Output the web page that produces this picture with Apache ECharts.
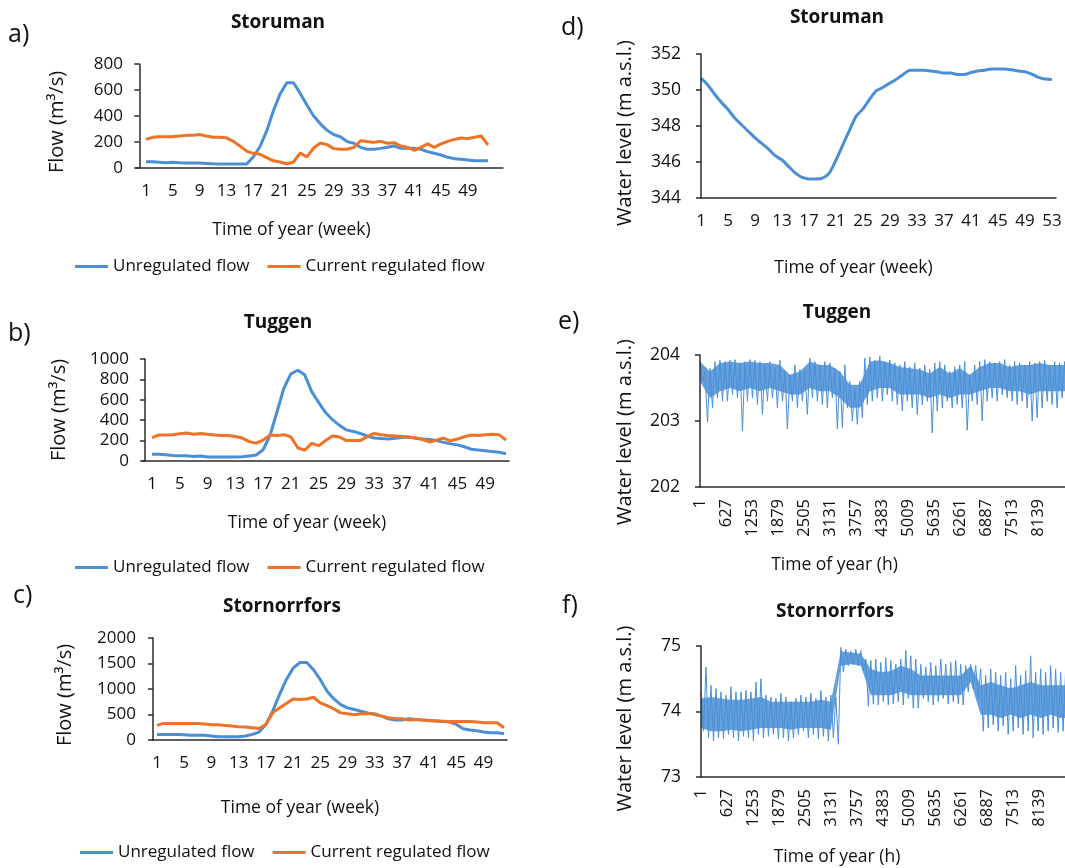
<!DOCTYPE html>
<html>
<head>
<meta charset="utf-8">
<script src="https://cdn.jsdelivr.net/npm/echarts@6.0.0/dist/echarts.min.js"></script>
<style>
  html, body { margin: 0; padding: 0; background: #fff; }
  #chart { width: 1065px; height: 868px; }
</style>
</head>
<body>
<div id="chart"></div>
<script>
// weekly flow panels a-c, weekly level panel d, hourly level panels e-f

var weeks = [];
for (var w = 1; w <= 53; w++) { weeks.push(w); }

var weekTicks = [1, 5, 9, 13, 17, 21, 25, 29, 33, 37, 41, 45, 49];
var weekTicksLevel = [1, 5, 9, 13, 17, 21, 25, 29, 33, 37, 41, 45, 49, 53];
var hourTicks = [1, 627, 1253, 1879, 2505, 3131, 3757, 4383, 5009, 5635, 6261, 6887, 7513, 8139];

// a) Storuman flow (m3/s)
var storumanUnreg = [48, 48, 45, 40, 45, 40, 38, 38, 38, 35,
  32, 30, 30, 30, 30, 30, 85, 165, 285, 440,
  570, 656, 656, 574, 485, 400, 340, 290, 258, 240,
  203, 190, 159, 144, 144, 151, 159, 169, 151, 151,
  151, 144, 126, 113, 100, 82, 72, 67, 62, 56,
  56, 56];
var storumanReg = [220, 236, 241, 241, 241, 246, 251, 251, 258, 246,
  236, 236, 232, 205, 170, 130, 113, 105, 80, 55,
  46, 31, 46, 115, 85, 154, 192, 180, 149, 144,
  144, 159, 210, 203, 197, 205, 190, 195, 169, 159,
  135, 159, 185, 159, 185, 205, 220, 231, 226, 236,
  246, 177];

// b) Tuggen flow (m3/s)
var tuggenUnreg = [65, 65, 62, 55, 52, 52, 45, 50, 40, 40,
  40, 40, 40, 42, 50, 58, 110, 250, 480, 715,
  855, 890, 845, 680, 575, 475, 405, 350, 305, 290,
  270, 245, 226, 220, 215, 222, 230, 235, 222, 215,
  210, 200, 183, 168, 158, 140, 115, 108, 100, 92,
  85, 72];
var tuggenReg = [229, 255, 255, 258, 268, 275, 262, 270, 262, 255,
  250, 250, 240, 225, 190, 175, 205, 255, 250, 258,
  235, 130, 105, 173, 150, 200, 245, 235, 200, 200,
  200, 238, 270, 258, 250, 245, 240, 235, 225, 210,
  185, 205, 225, 198, 215, 238, 255, 250, 258, 262,
  258, 205];

// c) Stornorrfors flow (m3/s)
var stornUnreg = [110, 110, 110, 110, 104, 91, 91, 91, 78, 65,
  65, 65, 65, 78, 110, 156, 305, 565, 890, 1182,
  1409, 1519, 1519, 1377, 1182, 955, 805, 695, 630, 597,
  565, 532, 500, 468, 416, 390, 390, 416, 403, 390,
  377, 377, 364, 351, 305, 221, 195, 182, 156, 143,
  143, 123];
var stornReg = [286, 325, 325, 325, 325, 325, 325, 312, 299, 299,
  286, 273, 260, 253, 240, 227, 305, 532, 630, 714,
  805, 792, 805, 838, 727, 675, 610, 532, 513, 494,
  513, 513, 513, 468, 435, 416, 416, 390, 403, 390,
  383, 370, 370, 364, 364, 364, 364, 351, 338, 338,
  338, 240];

// d) Storuman water level (m a.s.l.), weeks 1-53
var storumanLevel = [350.64, 350.28, 349.78, 349.32, 348.92, 348.44, 348.07, 347.71, 347.34, 347.03,
  346.72, 346.35, 346.11, 345.74, 345.38, 345.14, 345.06, 345.05, 345.10, 345.38,
  346.11, 346.94, 347.76, 348.55, 348.95, 349.50, 349.96, 350.15, 350.39, 350.61,
  350.88, 351.10, 351.10, 351.10, 351.06, 351.01, 350.94, 350.94, 350.86, 350.86,
  350.97, 351.05, 351.10, 351.16, 351.16, 351.16, 351.12, 351.06, 351.01, 350.88,
  350.70, 350.61, 350.59];

// e) Tuggen hourly level: extreme highs / lows read every 120 h
var tuggenHigh = [203.90, 203.75, 203.80, 203.90, 203.92, 203.90, 203.92, 203.93, 203.88, 203.90,
  203.93, 203.92, 203.90, 203.85, 203.90, 203.80, 203.92, 203.75, 203.70, 203.85,
  203.78, 203.75, 203.95, 203.90, 203.85, 203.90, 203.88, 203.80, 203.75, 203.85,
  203.60, 203.50, 203.60, 203.95, 203.97, 203.92, 203.98, 203.90, 203.92, 203.88,
  203.85, 203.90, 203.82, 203.88, 203.80, 203.85, 203.78, 203.88, 203.90, 203.85,
  203.75, 203.82, 203.85, 203.90, 203.70, 203.85, 203.90, 203.93, 203.90, 203.88,
  203.90, 203.93, 203.85, 203.90, 203.88, 203.85, 203.90, 203.88, 203.90, 203.92,
  203.85, 203.90, 203.88, 203.90];
var tuggenLow = [203.60, 202.98, 203.20, 203.35, 203.30, 203.30, 203.40, 203.35, 202.85, 203.30,
  203.35, 203.25, 203.10, 203.30, 203.35, 203.20, 203.30, 202.88, 203.30, 203.20,
  203.30, 203.10, 203.35, 203.30, 203.25, 203.20, 203.35, 202.88, 202.90, 203.20,
  203.00, 202.95, 203.05, 203.25, 203.30, 203.35, 203.30, 203.40, 203.30, 203.25,
  203.15, 203.30, 203.20, 203.10, 203.25, 203.30, 202.82, 203.15, 203.20, 203.30,
  203.20, 203.25, 203.20, 202.86, 203.30, 203.25, 203.00, 203.30, 203.35, 203.30,
  203.40, 203.35, 203.30, 203.25, 203.30, 203.20, 203.00, 203.05, 203.20, 203.30,
  203.25, 203.20, 203.35, 203.30];
// e) dense core of the band, read every 240 h
var tuggenCoreHigh = [203.90, 203.75, 203.88, 203.90, 203.88, 203.90, 203.88, 203.88, 203.85, 203.70,
  203.75, 203.90, 203.85, 203.85, 203.75, 203.55, 203.55, 203.90, 203.92, 203.88,
  203.82, 203.80, 203.78, 203.72, 203.82, 203.72, 203.80, 203.70, 203.82, 203.88,
  203.88, 203.82, 203.85, 203.85, 203.88, 203.85, 203.85, 203.85];
var tuggenCoreLow = [203.60, 203.35, 203.45, 203.50, 203.45, 203.50, 203.45, 203.50, 203.45, 203.40,
  203.40, 203.50, 203.45, 203.45, 203.35, 203.20, 203.20, 203.45, 203.50, 203.50,
  203.40, 203.40, 203.40, 203.35, 203.40, 203.35, 203.40, 203.40, 203.45, 203.50,
  203.50, 203.45, 203.45, 203.40, 203.45, 203.45, 203.45, 203.45];

// f) Stornorrfors hourly level: extreme highs / lows read every 120 h
var stornHigh = [74.30, 74.68, 74.40, 74.35, 74.30, 74.25, 74.38, 74.30, 74.30, 74.32,
  74.30, 74.45, 74.50, 74.25, 74.22, 74.20, 74.28, 74.22, 74.15, 74.20,
  74.25, 74.22, 74.28, 74.20, 74.32, 74.22, 74.25, 74.22, 74.98, 74.95,
  74.92, 74.95, 74.93, 74.80, 74.78, 74.80, 74.75, 74.82, 74.78, 74.72,
  74.80, 74.93, 74.85, 74.80, 74.72, 74.68, 74.75, 74.70, 74.80, 74.72,
  74.75, 74.78, 74.72, 74.70, 74.72, 74.70, 74.65, 74.55, 74.65, 74.60,
  74.55, 74.60, 74.50, 74.70, 74.55, 74.62, 74.85, 74.60, 74.65, 74.60,
  74.70, 74.65, 74.60, 74.62];
var stornLow = [73.70, 73.60, 73.55, 73.60, 73.58, 73.65, 73.60, 73.55, 73.62, 73.60,
  73.55, 73.65, 73.60, 73.62, 73.65, 73.58, 73.60, 73.55, 73.60, 73.65,
  73.70, 73.60, 73.65, 73.58, 73.62, 73.55, 73.60, 73.50, 74.60, 74.70,
  74.72, 74.70, 74.62, 74.08, 74.12, 74.10, 74.15, 74.10, 74.12, 74.15,
  74.10, 74.20, 74.05, 74.05, 74.20, 74.15, 74.10, 74.15, 74.20, 74.12,
  74.15, 74.12, 74.10, 74.30, 74.35, 74.20, 73.70, 73.75, 73.80, 73.70,
  73.78, 73.65, 73.70, 73.75, 73.65, 73.70, 73.60, 73.70, 73.65, 73.70,
  73.75, 73.68, 73.70, 73.72];
// f) dense core of the band, read every 240 h
var stornCoreHigh = [74.20, 74.22, 74.20, 74.18, 74.18, 74.20, 74.22, 74.15, 74.15, 74.15,
  74.15, 74.15, 74.18, 74.15, 74.92, 74.90, 74.88, 74.65, 74.60, 74.62,
  74.70, 74.65, 74.55, 74.55, 74.55, 74.55, 74.55, 74.70, 74.40, 74.45,
  74.40, 74.35, 74.40, 74.45, 74.40, 74.40, 74.40, 74.40];
var stornCoreLow = [73.75, 73.70, 73.70, 73.72, 73.70, 73.72, 73.75, 73.75, 73.75, 73.72,
  73.75, 73.75, 73.75, 73.72, 74.70, 74.72, 74.70, 74.25, 74.25, 74.25,
  74.30, 74.25, 74.25, 74.25, 74.25, 74.25, 74.25, 74.45, 73.95, 73.95,
  73.90, 73.95, 73.90, 73.95, 73.90, 73.95, 73.90, 73.90];

var BLUE = '#4a8fd6';
var ORANGE = '#ee7327';
var TEXT = '#111111';
var AXIS = '#2b2b2b';
var FONT = "'Open Sans', 'Noto Sans', sans-serif";

function weekly(vals) {
  return vals.map(function (v, i) { return [weeks[i], v]; });
}

function every240(vals) {
  return vals.map(function (v, j) { return [1 + 240 * j, v]; });
}

function hourly(high, low) {
  var out = [];
  for (var i = 0; i < high.length; i++) {
    out.push([1 + 120 * i, high[i]]);
    out.push([61 + 120 * i, low[i]]);
  }
  return out;
}

function plain(v) { return String(v); }

function xAxisWeek(idx, min, max, ticks, gap, shift) {
  return {
    type: 'value', gridIndex: idx, min: min, max: max, z: 5,
    name: 'Time of year (week)', nameLocation: 'middle', nameGap: gap,
    nameTextStyle: { fontSize: 17.5, color: TEXT, fontFamily: FONT, padding: [0, shift, 0, 0] },
    axisLine: { lineStyle: { color: AXIS, width: 1.5 } },
    axisTick: { show: false },
    splitLine: { show: false },
    axisLabel: { customValues: ticks, formatter: plain, fontSize: 17, color: TEXT, fontFamily: FONT, margin: 15 }
  };
}

function xAxisHour(idx, max, gap, shift) {
  return {
    type: 'value', gridIndex: idx, min: 1, max: max, z: 5,
    name: 'Time of year (h)', nameLocation: 'middle', nameGap: gap,
    nameTextStyle: { fontSize: 17.5, color: TEXT, fontFamily: FONT, padding: [0, shift, 0, 0] },
    axisLine: { lineStyle: { color: AXIS, width: 1.5 } },
    axisTick: { show: false },
    splitLine: { show: false },
    axisLabel: { customValues: hourTicks, formatter: plain, rotate: 90, fontSize: 16.5, color: TEXT, fontFamily: FONT, margin: 12 }
  };
}

function yAxisOf(idx, min, max, interval, name, gap, shift, size, margin) {
  return {
    type: 'value', gridIndex: idx, min: min, max: max, interval: interval, z: 5,
    name: name, nameLocation: 'middle', nameGap: gap,
    nameTextStyle: { fontSize: 20, color: TEXT, fontFamily: FONT, padding: [0, shift, 0, 0] },
    axisLine: { show: true, lineStyle: { color: AXIS, width: 1.5 } },
    axisTick: { show: true, length: 5, lineStyle: { color: AXIS, width: 1.5 } },
    splitLine: { show: false },
    axisLabel: { formatter: plain, fontSize: size, color: TEXT, fontFamily: FONT, margin: margin }
  };
}

function flowSeries(name, idx, vals, color) {
  return {
    name: name, type: 'line', xAxisIndex: idx, yAxisIndex: idx,
    data: weekly(vals), showSymbol: false, symbol: 'none',
    lineStyle: { color: color, width: 3 }, itemStyle: { color: color }
  };
}

// core band: blue area under coreHigh, white area under coreLow, then the zigzag of extremes
function bandSeries(idx, key, coreHigh, coreLow, high, low) {
  return [
    {
      name: key + ' core high', type: 'line', xAxisIndex: idx, yAxisIndex: idx,
      data: every240(coreHigh), showSymbol: false, symbol: 'none', silent: true,
      lineStyle: { width: 0 }, areaStyle: { color: BLUE, opacity: 0.85, origin: 'start' }
    },
    {
      name: key + ' core low', type: 'line', xAxisIndex: idx, yAxisIndex: idx,
      data: every240(coreLow), showSymbol: false, symbol: 'none', silent: true,
      lineStyle: { width: 0 }, areaStyle: { color: '#ffffff', opacity: 1, origin: 'start' }
    },
    {
      name: key + ' level', type: 'line', xAxisIndex: idx, yAxisIndex: idx,
      data: hourly(high, low), showSymbol: false, symbol: 'none',
      lineStyle: { color: BLUE, width: 1 }
    }
  ];
}

function legendAt(left, top) {
  return {
    left: left, top: top, padding: 0, icon: 'rect', itemWidth: 33, itemHeight: 3, itemGap: 18,
    textStyle: { fontSize: 17, color: TEXT, fontFamily: FONT },
    data: ['Unregulated flow', 'Current regulated flow']
  };
}

function label(text, x, y, size, bold) {
  return {
    type: 'text', x: x, y: y,
    style: {
      text: text, fill: TEXT, textAlign: bold ? 'center' : 'left', textVerticalAlign: 'middle',
      font: (bold ? 'bold ' : '') + size + 'px ' + FONT
    }
  };
}

var chart = echarts.init(document.getElementById('chart'));

var option = {
  backgroundColor: '#ffffff',
  animation: false,
  graphic: [
    label('a)', 8, 35, 25, false),
    label('b)', 8, 334, 25, false),
    label('c)', 13, 596, 25, false),
    label('d)', 561, 28, 25, false),
    label('e)', 558, 322, 25, false),
    label('f)', 562, 606, 25, false),
    label('Storuman', 278, 23, 19, true),
    label('Tuggen', 278, 323, 19, true),
    label('Stornorrfors', 282, 607, 19, true),
    label('Storuman', 837, 18, 19, true),
    label('Tuggen', 837, 313, 19, true),
    label('Stornorrfors', 835, 612, 19, true)
  ],
  legend: [legendAt(75, 258), legendAt(75, 559), legendAt(80, 844)],
  grid: [
    { left: 136, top: 64, width: 367, height: 104 },
    { left: 143, top: 359, width: 366, height: 102 },
    { left: 153, top: 638, width: 354, height: 102 },
    { left: 701, top: 54, width: 355, height: 144 },
    { left: 700, top: 355, width: 367, height: 132 },
    { left: 701, top: 646, width: 366, height: 131 }
  ],
  xAxis: [
    xAxisWeek(0, -0.49, 54.24, weekTicks, 53, 56),
    xAxisWeek(1, -0.30, 52.43, weekTicks, 53, 38),
    xAxisWeek(2, 0.41, 52.44, weekTicks, 59, 60),
    xAxisWeek(3, 1, 53.6, weekTicksLevel, 61, 50),
    xAxisHour(4, 8770, 69, 96),
    xAxisHour(5, 8746, 71, 92)
  ],
  yAxis: [
    yAxisOf(0, 0, 800, 200, 'Flow (m³/s)', 69, 12, 17, 13),
    yAxisOf(1, 0, 1000, 200, 'Flow (m³/s)', 74, 0, 17, 14),
    yAxisOf(2, 0, 2000, 500, 'Flow (m³/s)', 78, 12, 17, 17),
    yAxisOf(3, 344, 352, 2, 'Water level (m a.s.l.)', 66, 14, 17.5, 20),
    yAxisOf(4, 202, 204, 1, 'Water level (m a.s.l.)', 65, 22, 17.5, 20),
    yAxisOf(5, 73, 75, 1, 'Water level (m a.s.l.)', 66, 14, 17.5, 20)
  ],
  series: [
    flowSeries('Unregulated flow', 0, storumanUnreg, BLUE),
    flowSeries('Current regulated flow', 0, storumanReg, ORANGE),
    flowSeries('Unregulated flow', 1, tuggenUnreg, BLUE),
    flowSeries('Current regulated flow', 1, tuggenReg, ORANGE),
    flowSeries('Unregulated flow', 2, stornUnreg, BLUE),
    flowSeries('Current regulated flow', 2, stornReg, ORANGE),
    {
      name: 'Storuman level', type: 'line', xAxisIndex: 3, yAxisIndex: 3,
      data: weekly(storumanLevel), showSymbol: false, symbol: 'none', smooth: 0.3,
      lineStyle: { color: BLUE, width: 3 }
    }
  ].concat(
    bandSeries(4, 'Tuggen', tuggenCoreHigh, tuggenCoreLow, tuggenHigh, tuggenLow),
    bandSeries(5, 'Stornorrfors', stornCoreHigh, stornCoreLow, stornHigh, stornLow)
  )
};

chart.setOption(option);
</script>
</body>
</html>
